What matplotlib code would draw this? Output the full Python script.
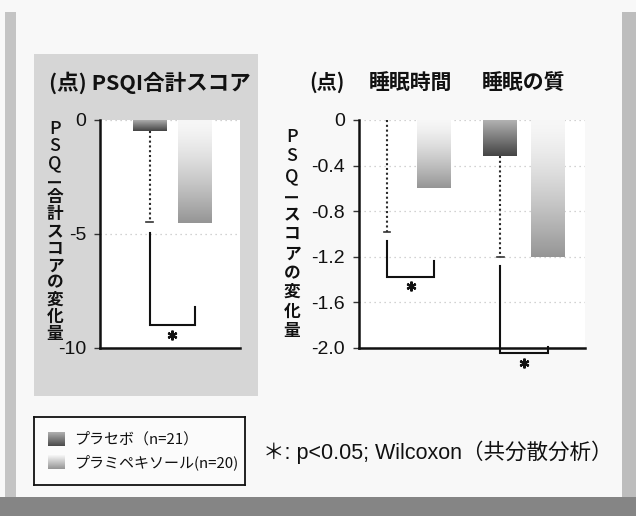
import numpy as np
import matplotlib
matplotlib.use("Agg")
import matplotlib.pyplot as plt
from matplotlib.patches import Rectangle
from matplotlib.colors import to_rgb

# ---------------- data ----------------
groups = ['プラセボ', 'プラミペキソール']
legend_labels = ['プラセボ（n=21）', 'プラミペキソール(n=20)']

# left panel: PSQI total score change
total_values = [-0.5, -4.5]          # placebo, pramipexole
total_placebo_err = 3.97
total_ticks = [0, -5, -10]
total_tick_labels = ['0', '-5', '-10']
total_bracket = [-4.95, -9.0, -8.2]   # left-leg start, bottom, right-leg top
total_star = -9.45

# right panel: components
comp_cats = ['睡眠時間', '睡眠の質']
comp_placebo = [0.0, -0.32]
comp_pram = [-0.6, -1.2]
comp_placebo_err = [0.98, 0.88]
comp_ticks = [0, -0.4, -0.8, -1.2, -1.6, -2.0]
comp_tick_labels = ['0', '-0.4', '-0.8', '-1.2', '-1.6', '-2.0']
comp_brackets = [[-1.06, -1.38, -1.24], [-1.28, -2.04, -1.99]]
comp_stars = [-1.46, -2.13]

note_text = '＊: p<0.05; Wilcoxon（共分散分析）'

# ---------------- style ----------------
W, H = 636, 516
CJK = 'Noto Sans CJK JP'
LAT = 'Liberation Sans'
placebo_grad = ('#b5b5b5', '#444444')
pram_grad = ('#f7f7f7', '#959595')

fig = plt.figure(figsize=(W / 100, H / 100), dpi=100)
fig.patch.set_facecolor('#f8f8f8')


def fx(x):
    return x / W


def fy(y):
    return 1 - y / H


def frect(x0, y0, x1, y1, color, z=-1):
    fig.patches.append(Rectangle((fx(x0), fy(y1)), fx(x1) - fx(x0), fy(y0) - fy(y1),
                                 transform=fig.transFigure, facecolor=color,
                                 edgecolor='none', zorder=z))


# page decoration (scan border + gray patch)
frect(5, 12, 16, 497, '#c4c4c4')
frect(622, 12, 636, 497, '#bdbdbd')
frect(0, 497, 636, 516, '#858585')
frect(34, 54, 258, 396, '#d6d6d6')


def gradient_bar(ax, x, value, width, cols, power=1.3):
    top = np.array(to_rgb(cols[0]))
    bot = np.array(to_rgb(cols[1]))
    t = np.linspace(0, 1, 200) ** power
    img = (top[None, :] * (1 - t[:, None]) + bot[None, :] * t[:, None])[:, None, :]
    ax.imshow(img, extent=(x - width / 2, x + width / 2, value, 0), aspect='auto',
              origin='upper', zorder=2, interpolation='bilinear')


def style_axes(ax, ticks, labels, ylim, size):
    ax.set_facecolor('white')
    ax.set_ylim(*ylim)
    for s in ['top', 'right']:
        ax.spines[s].set_visible(False)
    for s in ['left', 'bottom']:
        ax.spines[s].set_linewidth(1.8)
        ax.spines[s].set_color('#111111')
    ax.set_xticks([])
    ax.set_yticks(ticks)
    ax.set_yticklabels(labels, fontfamily=LAT, fontsize=size, color='#111111')
    ax.tick_params(axis='y', length=4, width=1, pad=6, color='#333333')
    for t in ticks:
        ax.axhline(t, color='#c4c4c4', lw=0.9, ls=(0, (1, 3)), zorder=1)


def bracket(ax, xl, xr, b, lw=1.5):
    ax.plot([xl, xl, xr, xr], [b[0], b[1], b[1], b[2]], color='#111111', lw=lw,
            solid_joinstyle='miter', zorder=4, clip_on=False)


def errbar(ax, x, v, e, capw):
    ax.plot([x, x], [v, v - e], color='#2a2a2a', lw=1.5, ls=(0, (1, 1.3)), zorder=3)
    ax.plot([x - capw, x + capw], [v - e, v - e], color='#333333', lw=1.2, zorder=3)


def vlabel(x_px, y0_px, y1_px, text, size):
    n = len(text)
    step = (y1_px - y0_px) / (n - 1)
    for i, ch in enumerate(text):
        rot = 90 if ch == 'I' else 0
        if ch.isascii():
            s, wt = size * 1.08, 'medium'
        else:
            s, wt = size, 'bold'
        fig.text(fx(x_px), fy(y0_px + i * step), ch, ha='center', va='center',
                 fontsize=s, fontweight=wt, rotation=rot,
                 family=[CJK, 'DejaVu Sans'], color='#111111')


bw = 0.75

# ---------------- left panel ----------------
axL = fig.add_axes([fx(100), fy(348), fx(240) - fx(100), fy(120) - fy(348)])
style_axes(axL, total_ticks, total_tick_labels, (-10, 0), 14)
axL.set_xlim(-1.1, 2.01)
xl_pos = [0, 1]
gradient_bar(axL, xl_pos[0], total_values[0], bw, placebo_grad, power=1.0)
gradient_bar(axL, xl_pos[1], total_values[1], bw, pram_grad, power=1.4)
errbar(axL, xl_pos[0], total_values[0], total_placebo_err, 0.07)
bracket(axL, xl_pos[0], xl_pos[1], total_bracket)
axL.plot([np.mean(xl_pos)], [total_star], marker=(6, 2, 0), ms=7, mew=1.6,
         color='#111111', zorder=5)

fig.text(fx(49), fy(83), '(点) PSQI合計スコア', ha='left', va='center',
         fontsize=15.5, fontweight='bold', family=[CJK], color='#111111')
vlabel(55, 129, 334, 'PSQI合計スコアの変化量', 12)

# ---------------- right panel ----------------
axR = fig.add_axes([fx(359), fy(348), fx(585) - fx(359), fy(120) - fy(348)])
style_axes(axR, comp_ticks, comp_tick_labels, (-2.0, 0), 14)
axR.set_xlim(-0.62, 4.4)
group_base = [0, 2.52]
p_pos = [g for g in group_base]
r_pos = [g + 1.05 for g in group_base]
for i in range(len(comp_cats)):
    if comp_placebo[i] < 0:
        gradient_bar(axR, p_pos[i], comp_placebo[i], bw, placebo_grad, power=1.0)
    gradient_bar(axR, r_pos[i], comp_pram[i], bw, pram_grad, power=1.4)
    errbar(axR, p_pos[i], comp_placebo[i], comp_placebo_err[i], 0.07)
    bracket(axR, p_pos[i], r_pos[i], comp_brackets[i])
    axR.plot([(p_pos[i] + r_pos[i]) / 2], [comp_stars[i]], marker=(6, 2, 0), ms=7,
             mew=1.6, color='#111111', zorder=5, clip_on=False)
    axR.text((p_pos[i] + r_pos[i]) / 2, 1.165, comp_cats[i], transform=axR.get_xaxis_transform(),
             ha='center', va='center', fontsize=15, fontweight='bold', family=[CJK],
             color='#111111')

fig.text(fx(327), fy(82), '(点)', ha='center', va='center', fontsize=14.5,
         fontweight='bold', family=[CJK], color='#111111')
vlabel(292, 137, 331, 'PSQIスコアの変化量', 12)

# ---------------- legend ----------------
axLeg = fig.add_axes([fx(34), fy(485), fx(245) - fx(34), fy(417) - fy(485)])
axLeg.set_xlim(0, 211)
axLeg.set_ylim(68, 0)
axLeg.set_xticks([])
axLeg.set_yticks([])
axLeg.set_facecolor('#fbfbfb')
for s in axLeg.spines.values():
    s.set_linewidth(1.3)
    s.set_color('#111111')
for i, (lab, cols) in enumerate(zip(legend_labels, [placebo_grad, pram_grad])):
    yc = 22 + i * 23
    top = np.array(to_rgb(cols[0]))
    bot = np.array(to_rgb(cols[1]))
    t = np.linspace(0, 1, 50)
    img = (top[None, :] * (1 - t[:, None]) + bot[None, :] * t[:, None])[:, None, :]
    if i == 0:
        img = img * 0.9 + 0.05
    axLeg.imshow(img, extent=(14, 31, yc + 7, yc - 7), aspect='auto')
    axLeg.text(40, yc, lab, ha='left', va='center', fontsize=10.8,
               family=[CJK], color='#111111')

fig.text(fx(263), fy(452), note_text, ha='left', va='center', fontsize=15.5,
         family=[LAT, CJK], color='#111111')

fig.savefig('out.png', dpi=100, facecolor=fig.get_facecolor())
